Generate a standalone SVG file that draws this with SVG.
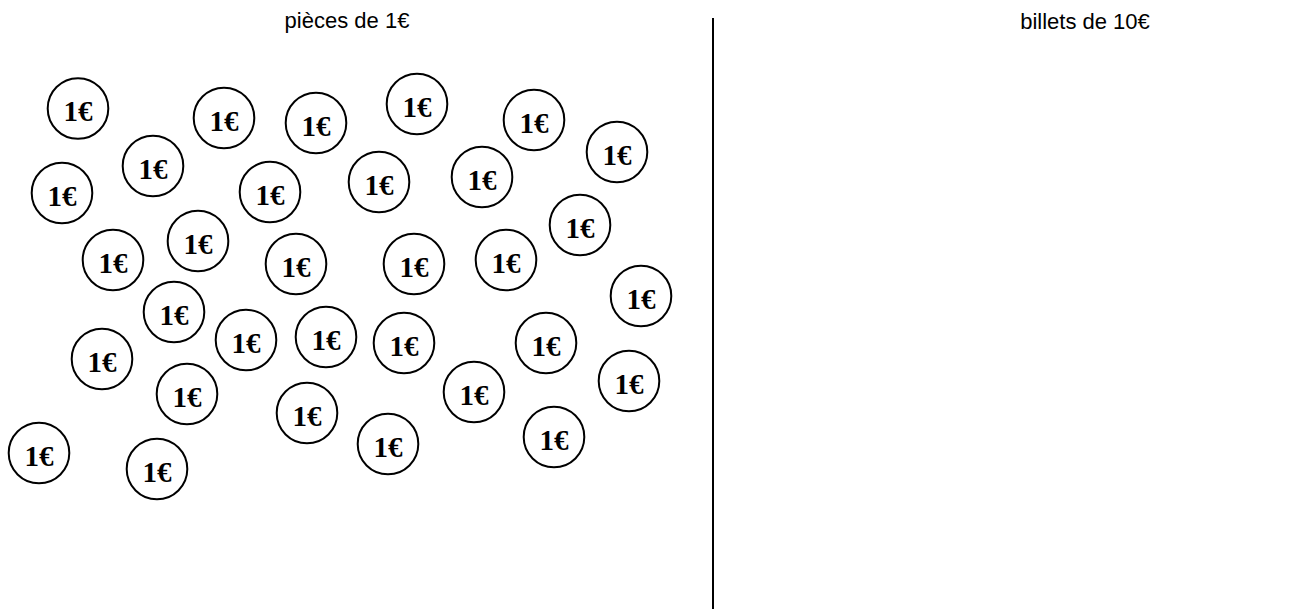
<svg xmlns="http://www.w3.org/2000/svg" width="1299" height="609" viewBox="0 0 1299 609">
<defs>
<style>
.ring{fill:#fff;stroke:#000;stroke-width:2}
.val{font-family:"Liberation Serif",serif;font-weight:bold;font-size:29px;text-anchor:middle;fill:#000}
.hdr{font-family:"Liberation Sans",Arial,sans-serif;font-size:22px;text-anchor:middle;fill:#000}
</style>
<g id="c"><circle class="ring" r="30.3"/><text class="val" y="12.5">1€</text></g>
</defs>
<rect width="1299" height="609" fill="#fff"/>
<text id="label-pieces" class="hdr" x="347" y="28">pièces de 1€</text>
<text id="label-billets" class="hdr" x="1085" y="29">billets de 10€</text>
<g id="connectors"><line x1="713" y1="18" x2="713" y2="609" stroke="#000" stroke-width="2"/></g>
<g id="coins">
<g id="coin1"><use href="#c" x="78" y="108.5"/></g>
<g id="coin2"><use href="#c" x="224" y="118"/></g>
<g id="coin3"><use href="#c" x="316" y="123"/></g>
<g id="coin4"><use href="#c" x="417" y="104"/></g>
<g id="coin5"><use href="#c" x="534" y="120"/></g>
<g id="coin6"><use href="#c" x="617" y="152"/></g>
<g id="coin7"><use href="#c" x="153" y="166"/></g>
<g id="coin8"><use href="#c" x="62" y="193"/></g>
<g id="coin9"><use href="#c" x="270" y="192"/></g>
<g id="coin10"><use href="#c" x="379" y="182"/></g>
<g id="coin11"><use href="#c" x="482" y="177"/></g>
<g id="coin12"><use href="#c" x="580" y="225"/></g>
<g id="coin13"><use href="#c" x="113" y="260"/></g>
<g id="coin14"><use href="#c" x="198" y="241"/></g>
<g id="coin15"><use href="#c" x="296" y="264"/></g>
<g id="coin16"><use href="#c" x="414" y="264"/></g>
<g id="coin17"><use href="#c" x="506" y="260"/></g>
<g id="coin18"><use href="#c" x="641" y="296"/></g>
<g id="coin19"><use href="#c" x="174" y="312"/></g>
<g id="coin20"><use href="#c" x="102" y="359"/></g>
<g id="coin21"><use href="#c" x="246" y="340"/></g>
<g id="coin22"><use href="#c" x="326" y="337"/></g>
<g id="coin23"><use href="#c" x="404" y="343"/></g>
<g id="coin24"><use href="#c" x="546" y="343"/></g>
<g id="coin25"><use href="#c" x="187" y="394"/></g>
<g id="coin26"><use href="#c" x="307" y="413"/></g>
<g id="coin27"><use href="#c" x="474" y="392"/></g>
<g id="coin28"><use href="#c" x="629" y="381"/></g>
<g id="coin29"><use href="#c" x="39" y="453"/></g>
<g id="coin30"><use href="#c" x="157" y="469"/></g>
<g id="coin31"><use href="#c" x="388" y="444"/></g>
<g id="coin32"><use href="#c" x="554" y="437"/></g>
</g>
</svg>
